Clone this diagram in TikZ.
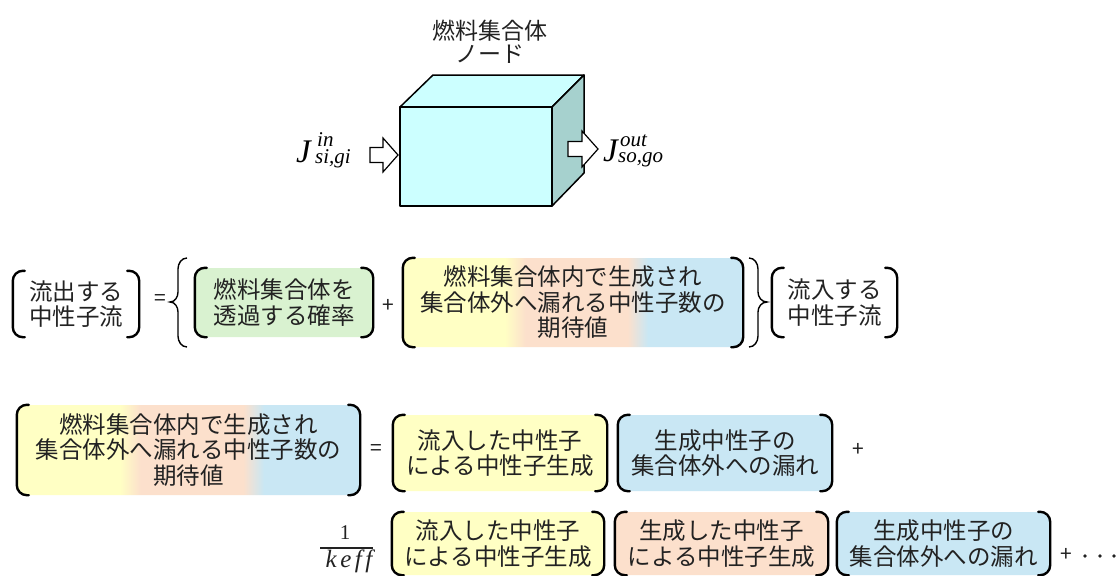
\documentclass[tikz,border=0pt]{standalone}
\usepackage{fontspec}
\setmainfont{Noto Sans CJK JP}
\newfontfamily\tms{Liberation Serif}
\newfontfamily\tmsw[LetterSpace=14]{Liberation Serif}
\definecolor{txt}{HTML}{222222}
\definecolor{cg}{HTML}{D9F2D0}
\definecolor{cy}{HTML}{FFFFC4}
\definecolor{co}{HTML}{FCE0CC}
\definecolor{cb}{HTML}{C9E7F4}
\definecolor{cfront}{HTML}{CCFFFF}
\definecolor{cside}{HTML}{A6D1CE}
\pgfdeclarehorizontalshading{ybo}{100bp}{color(0bp)=(cy); color(40bp)=(cy); color(43bp)=(co); color(58bp)=(co); color(61bp)=(cb); color(100bp)=(cb)}
\tikzset{
  bx/.style={rounded corners=10pt, draw=none, align=center, text=txt, inner sep=0pt,
    font=\fontsize{23.5}{25.5}\selectfont},
  brk/.style={line width=2.4pt, rounded corners=10pt, line cap=round, black},
  sym/.style={text=txt, inner sep=0pt, font=\fontsize{21}{24}\selectfont},
  cube/.style={line width=1.5pt, line join=round, black},
  harrow/.style={line width=1.2pt, fill=white, draw=black, line join=miter},
  brace/.style={line width=1.4pt, black},
  jbig/.style={inner sep=0pt, anchor=base west, font=\fontsize{33}{34}\selectfont\tms\itshape},
  jsmall/.style={inner sep=0pt, anchor=base west, font=\fontsize{21}{24}\selectfont\tms\itshape}
}
\newcommand\brbox[7]{%
  \node[bx, #6, minimum width=#4pt, minimum height=#5pt] (#1) at (#2,#3) {#7};
  \draw[brk] ([xshift=12pt]#1.north west) -- (#1.north west) -- (#1.south west) -- ([xshift=12pt]#1.south west);
  \draw[brk] ([xshift=-12pt]#1.north east) -- (#1.north east) -- (#1.south east) -- ([xshift=-12pt]#1.south east);
}
\begin{document}
\begin{tikzpicture}[x=1pt,y=-1pt]
\useasboundingbox[fill=white] (0,0) rectangle (1120,576);

% title
\node[text=txt, align=center, inner sep=0pt, font=\fontsize{23}{23.5}\selectfont] (title) at (490,42) {燃料集合体\\ノード};

% cube
\draw[cube, fill=cfront] (400,107) -- (433,75) -- (584,75) -- (552,107) -- cycle;
\draw[cube, fill=cside] (552,107) -- (584,75) -- (584,173) -- (552,206) -- cycle;
\draw[cube, fill=cfront] (400,107) rectangle (552,206);

% hollow arrows
\draw[harrow] (370,147.5) -- (383,147.5) -- (383,138) -- (398,155) -- (383,172) -- (383,162.5) -- (370,162.5) -- cycle;
\draw[harrow] (568,141.5) -- (582,141.5) -- (582,131) -- (598,149) -- (582,167) -- (582,156.5) -- (568,156.5) -- cycle;

% flux labels
\node[jbig] (jin) at (296,162) {J};
\node[jsmall] (jinsup) at (317,146) {in};
\node[jsmall] (jinsub) at (315,163) {si,gi};
\node[jbig] (jout) at (603,161) {J};
\node[jsmall] (joutsup) at (620,146) {out};
\node[jsmall] (joutsub) at (618,162) {so,go};

% row 1
\brbox{out1}{76}{304}{126}{66}{}{流出する\\中性子流}
\node[sym] (eq1) at (160,300) {=};
\draw[brace] (187,258) to[out=180,in=90] (178,269) -- (178,292) to[out=-90,in=0] (170,302)
  to[out=0,in=90] (178,312) -- (178,336) to[out=-90,in=180] (187,347);
\brbox{trans}{284}{302.5}{178}{69}{fill=cg}{燃料集合体を\\透過する確率}
\node[sym] (pl1) at (388,306) {+};
\brbox{gen1}{573}{302.5}{340}{89}{shading=ybo}{燃料集合体内で生成され\\集合体外へ漏れる中性子数の\\期待値}
\draw[brace] (749,258) to[out=0,in=90] (758,269) -- (758,292) to[out=-90,in=180] (767,302)
  to[out=180,in=90] (758,312) -- (758,336) to[out=-90,in=0] (749,347);
\brbox{in1}{834.5}{302.5}{125}{69}{}{流入する\\中性子流}

% row 2
\brbox{gen2}{188.5}{450}{343}{90}{shading=ybo}{燃料集合体内で生成され\\集合体外へ漏れる中性子数の\\期待値}
\node[sym] (eq2) at (376,450) {=};
\brbox{y2}{500}{453}{214}{76}{fill=cy}{流入した中性子\\による中性子生成}
\brbox{b2}{725}{453}{214}{76}{fill=cb}{生成中性子の\\集合体外への漏れ}
\node[sym] (pl2) at (858,450) {+};

% row 3
\node[inner sep=0pt, anchor=base, text=txt, font=\fontsize{21}{24}\selectfont\tms] (one) at (345,539) {1};
\node[inner sep=0pt, anchor=base, text=txt, font=\fontsize{25}{26}\selectfont\tmsw\itshape] (keff) at (349,567) {keff};
\draw[line width=1.2pt, txt] (320,548) -- (373,548);
\brbox{y3}{498}{543.5}{212}{63}{fill=cy}{流入した中性子\\による中性子生成}
\brbox{o3}{721.5}{543.5}{213}{63}{fill=co}{生成した中性子\\による中性子生成}
\brbox{b3}{943.5}{543.5}{213}{63}{fill=cb}{生成中性子の\\集合体外への漏れ}
\node[sym] (pl3) at (1066,555) {+};
\foreach \x in {1085,1100,1114} \fill[txt] (\x,556) circle (1.8);
\end{tikzpicture}
\end{document}
